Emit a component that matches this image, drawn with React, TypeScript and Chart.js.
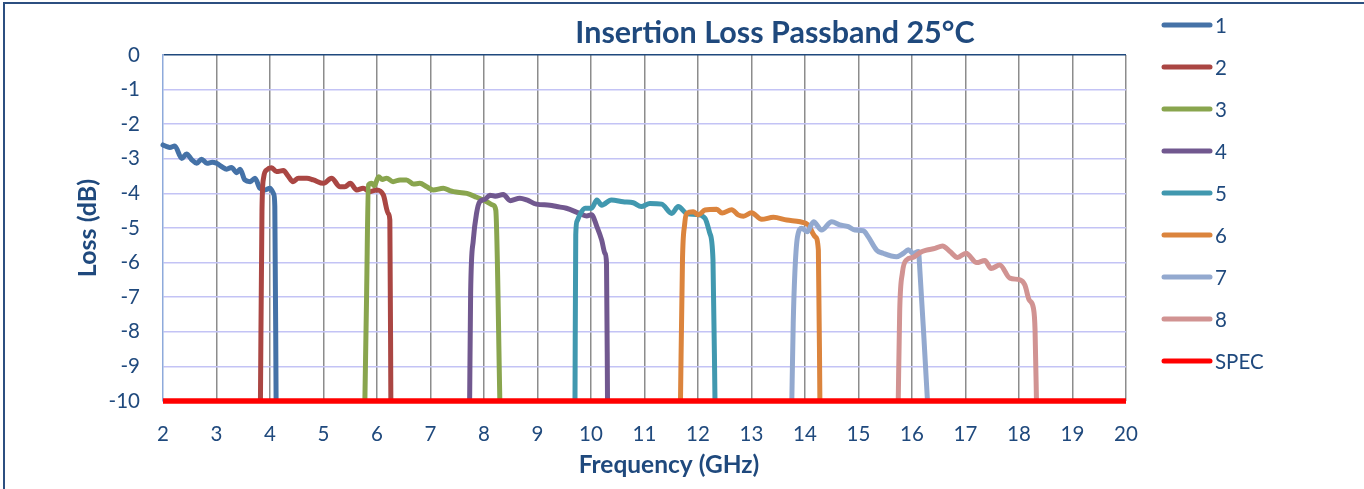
import React, { useEffect, useRef } from "react";
import { Chart, registerables } from "chart.js";

Chart.register(...registerables);

const FONT = "Lato, 'Open Sans', sans-serif";
const TEXT = "#1f497d";

const chartTitle = "Insertion Loss Passband 25°C";
const xTitle = "Frequency (GHz)";
const yTitle = "Loss (dB)";

const seriesNames = ["1", "2", "3", "4", "5", "6", "7", "8", "SPEC"];
const seriesColors = [
  "#4572A7",
  "#AA4643",
  "#89A54E",
  "#71588F",
  "#4198AF",
  "#DB843D",
  "#93A9CF",
  "#D19392",
  "#FF0000",
];

const s1Freq = [2.0, 2.06, 2.13, 2.22, 2.35, 2.44, 2.54, 2.63, 2.72, 2.82, 2.92, 3.0, 3.1, 3.19, 3.28, 3.38, 3.44, 3.53, 3.63, 3.72, 3.81, 3.91, 4.0, 4.07, 4.09, 4.115];
const s1Loss = [-2.6, -2.64, -2.67, -2.63, -2.99, -2.86, -3.03, -3.13, -3.01, -3.13, -3.1, -3.13, -3.23, -3.3, -3.25, -3.4, -3.3, -3.61, -3.66, -3.56, -3.85, -3.9, -3.85, -4.02, -4.38, -10.3];

const s2Freq = [3.82, 3.85, 3.88, 3.94, 4.03, 4.12, 4.25, 4.34, 4.43, 4.53, 4.69, 4.81, 5.0, 5.15, 5.31, 5.4, 5.5, 5.62, 5.74, 5.87, 5.99, 6.12, 6.21, 6.24, 6.26];
const s2Loss = [-10.3, -4.5, -3.55, -3.32, -3.26, -3.37, -3.34, -3.5, -3.66, -3.56, -3.56, -3.61, -3.71, -3.56, -3.81, -3.81, -3.71, -3.9, -3.85, -3.95, -3.9, -4.05, -4.58, -4.77, -10.3];

const s3Freq = [5.77, 5.805, 5.84, 5.9, 5.95, 6.03, 6.1, 6.18, 6.3, 6.43, 6.55, 6.68, 6.8, 6.93, 7.05, 7.24, 7.36, 7.43, 7.68, 7.86, 8.05, 8.17, 8.22, 8.3];
const s3Loss = [-10.3, -7.0, -3.76, -3.71, -3.78, -3.52, -3.6, -3.56, -3.66, -3.61, -3.61, -3.73, -3.71, -3.81, -3.9, -3.85, -3.92, -3.95, -4.0, -4.11, -4.24, -4.34, -4.48, -10.3];

const s4Freq = [7.73, 7.75, 7.8, 7.86, 7.92, 8.02, 8.11, 8.21, 8.36, 8.49, 8.67, 8.8, 8.98, 9.23, 9.36, 9.54, 9.79, 9.92, 10.01, 10.11, 10.2, 10.26, 10.29, 10.31];
const s4Loss = [-10.3, -6.89, -5.35, -4.58, -4.24, -4.17, -4.05, -4.08, -4.03, -4.21, -4.14, -4.19, -4.31, -4.34, -4.38, -4.43, -4.58, -4.65, -4.62, -4.96, -5.35, -5.73, -6.02, -10.3];

const s5Freq = [9.7, 9.715, 9.74, 9.79, 9.89, 10.01, 10.11, 10.2, 10.38, 10.6, 10.79, 10.94, 11.1, 11.32, 11.51, 11.63, 11.79, 11.97, 12.13, 12.22, 12.28, 12.32];
const s5Loss = [-10.3, -5.2, -4.8, -4.62, -4.43, -4.43, -4.19, -4.34, -4.19, -4.24, -4.27, -4.38, -4.29, -4.31, -4.58, -4.38, -4.58, -4.61, -4.72, -5.15, -5.92, -10.3];

const s6Freq = [11.67, 11.71, 11.75, 11.79, 11.91, 12.01, 12.13, 12.35, 12.45, 12.63, 12.75, 12.85, 13.0, 13.19, 13.41, 13.66, 13.91, 14.06, 14.19, 14.25, 14.28];
const s6Loss = [-10.3, -5.92, -4.9, -4.58, -4.53, -4.62, -4.48, -4.46, -4.57, -4.47, -4.62, -4.66, -4.56, -4.75, -4.69, -4.77, -4.82, -4.91, -5.25, -5.64, -10.3];

const s7Freq = [13.75, 13.78, 13.81, 13.86, 13.94, 14.04, 14.16, 14.31, 14.5, 14.65, 14.81, 14.93, 15.09, 15.18, 15.34, 15.46, 15.71, 15.84, 15.93, 16.02, 16.12, 16.15, 16.22, 16.3];
const s7Loss = [-10.3, -7.75, -6.31, -5.25, -5.01, -5.11, -4.82, -5.06, -4.82, -4.91, -4.96, -5.06, -5.08, -5.25, -5.64, -5.73, -5.83, -5.73, -5.63, -5.73, -5.68, -6.3, -8.1, -10.3];

const s8Freq = [15.74, 15.77, 15.82, 15.9, 16.02, 16.15, 16.27, 16.43, 16.57, 16.71, 16.85, 17.01, 17.21, 17.36, 17.48, 17.64, 17.83, 18.02, 18.11, 18.19, 18.27, 18.3, 18.33];
const s8Loss = [-10.3, -7.4, -6.3, -5.92, -5.85, -5.71, -5.64, -5.59, -5.52, -5.68, -5.85, -5.73, -6.0, -5.94, -6.17, -6.07, -6.45, -6.5, -6.65, -7.08, -7.32, -7.95, -10.3];

const specFreq = [2, 20];
const specLoss = [-10, -10];

const allFreq = [s1Freq, s2Freq, s3Freq, s4Freq, s5Freq, s6Freq, s7Freq, s8Freq, specFreq];
const allLoss = [s1Loss, s2Loss, s3Loss, s4Loss, s5Loss, s6Loss, s7Loss, s8Loss, specLoss];

const overlayPlugin = {
  id: "overlay",
  afterDraw(chart: any) {
    const ctx = chart.ctx as CanvasRenderingContext2D;
    ctx.save();
    ctx.fillStyle = TEXT;
    ctx.textAlign = "center";
    ctx.textBaseline = "middle";
    ctx.font = `bold 30.5px ${FONT}`;
    ctx.fillText(chartTitle, 775, 33);
    ctx.font = `bold 24.5px ${FONT}`;
    ctx.fillText(xTitle, 669, 465);
    ctx.font = `20.5px ${FONT}`;
    ctx.textAlign = "left";
    seriesNames.forEach((name, i) => {
      const y = 25 + i * 42;
      ctx.strokeStyle = seriesColors[i];
      ctx.lineWidth = 5;
      ctx.lineCap = "round";
      ctx.beginPath();
      ctx.moveTo(1164, y);
      ctx.lineTo(1210, y);
      ctx.stroke();
      ctx.fillStyle = TEXT;
      ctx.fillText(name, 1215, y + 1);
    });
    ctx.restore();
  },
};

export default function App() {
  const ref = useRef<HTMLCanvasElement>(null);
  useEffect(() => {
    if (!ref.current) return;
    const datasets = seriesNames.map((name, i) => ({
      label: name,
      data: allFreq[i].map((f, j) => ({ x: f, y: allLoss[i][j] })),
      borderColor: seriesColors[i],
      backgroundColor: seriesColors[i],
      borderWidth: i === 8 ? 5.5 : 5,
      pointRadius: 0,
      pointHoverRadius: 0,
      cubicInterpolationMode: "monotone" as const,
      borderCapStyle: (i === 8 ? "butt" : "round") as CanvasLineCap,
      borderJoinStyle: "round" as const,
      fill: false,
      clip: i === 8 ? false : { left: 3, right: 3, top: 3, bottom: 0 },
      order: 9 - i,
    }));
    const chart = new Chart(ref.current, {
      type: "line",
      data: { datasets },
      plugins: [overlayPlugin],
      options: {
        animation: false,
        responsive: false,
        maintainAspectRatio: false,
        layout: { padding: { left: 73, top: 55, right: 238, bottom: 0 } },
        plugins: { legend: { display: false }, title: { display: false }, tooltip: { enabled: false } },
        scales: {
          x: {
            type: "linear",
            min: 2,
            max: 20,
            ticks: { stepSize: 1, color: TEXT, font: { family: FONT, size: 20.5 }, padding: 21, autoSkip: false },
            grid: {
              color: (c: any) => (c.tick && c.tick.value === 2 ? "rgba(0,0,0,0)" : "#8c8c8c"),
              lineWidth: 1.5,
              drawTicks: false,
            },
            border: { display: false },
            afterFit: (s: any) => {
              s.height = 88;
            },
          },
          y: {
            type: "linear",
            min: -10,
            max: 0,
            ticks: { stepSize: 1, color: TEXT, font: { family: FONT, size: 20.5 }, padding: 23 },
            grid: {
              color: (c: any) => (c.tick && c.tick.value === 0 ? "#1f497d" : "#c3c3f5"),
              lineWidth: 1.5,
              drawTicks: false,
            },
            border: { display: true, color: "#8eaadb", width: 1.5 },
            title: { display: true, text: yTitle, color: TEXT, font: { family: FONT, size: 25, weight: "bold" }, padding: 0 },
            afterFit: (s: any) => {
              s.width = 90;
            },
          },
        },
      },
    });
    return () => chart.destroy();
  }, []);

  return (
    <div style={{ position: "fixed", left: 0, top: 0, width: 1364, height: 489, background: "#fff", overflow: "hidden" }}>
      <div
        style={{
          position: "absolute",
          left: 3,
          top: 2,
          width: 1500,
          height: 600,
          border: "2px solid #2c4f80",
        }}
      />
      <canvas ref={ref} width={1364} height={489} style={{ position: "absolute", left: 0, top: 0 }} />
    </div>
  );
}
